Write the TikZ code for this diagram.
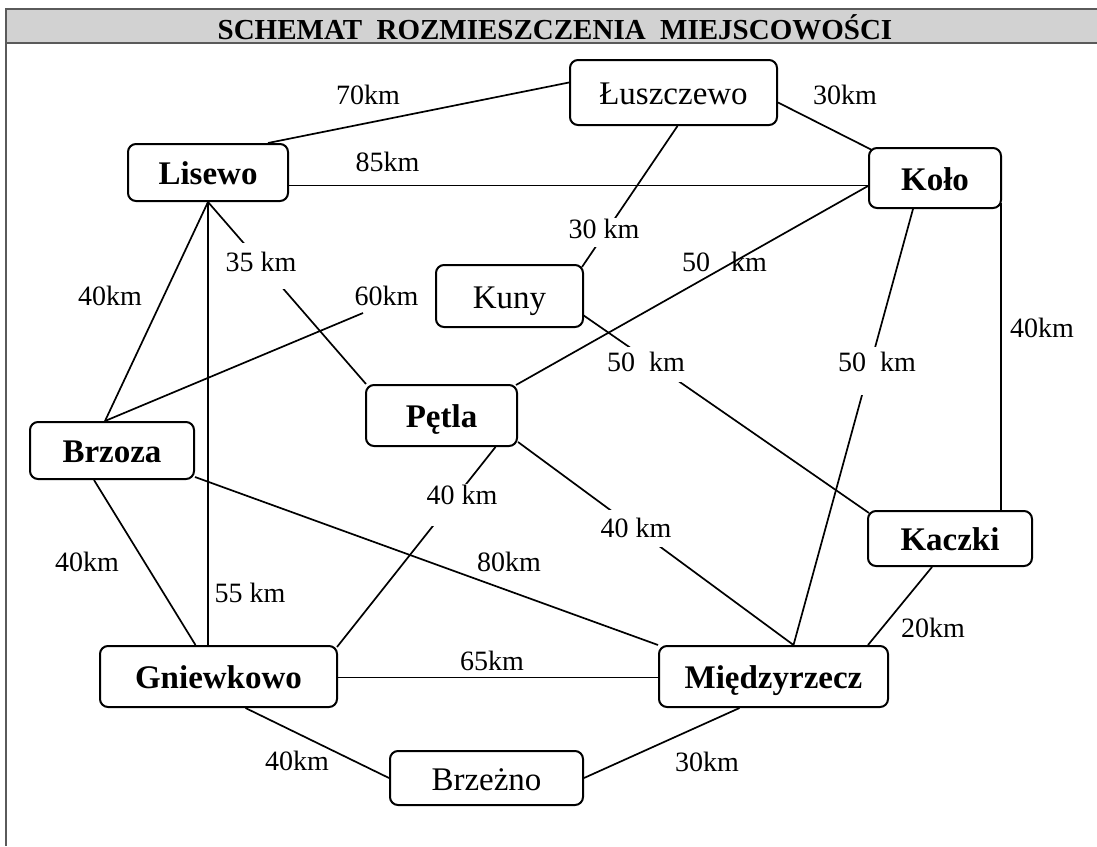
\documentclass[tikz,border=0pt]{standalone}
\usepackage{fontspec}
\setmainfont{Liberation Serif}
\usetikzlibrary{calc}
\definecolor{headgray}{RGB}{210,210,210}
\definecolor{framegray}{RGB}{90,90,90}
\begin{document}
\begin{tikzpicture}[x=1pt,y=-1pt,
  town/.style={draw=black, line width=2pt, rounded corners=8pt, inner sep=0pt,
               text height=27pt, text depth=3pt},
  btown/.style={town, font=\fontsize{33}{38}\selectfont\bfseries},
  rtown/.style={town, font=\fontsize{33}{38}\selectfont},
  road/.style={line width=1.7pt, black},
  dist/.style={inner sep=0pt, font=\fontsize{28}{32}\selectfont},
  gap/.style={dist, fill=white, inner xsep=2pt, anchor=base},
]
\useasboundingbox (0,0) rectangle (1097,846);
% header and frame
\fill[headgray] (6,9) rectangle (1097,43);
\draw[framegray, line width=1.4pt] (1097,9) -- (6,9) -- (6,846);
\draw[framegray, line width=1.4pt] (6,43) -- (1097,43);
\node[inner sep=0pt, font=\fontsize{29}{32}\selectfont\bfseries] (title) at (555,27)
  {SCHEMAT\ \ ROZMIESZCZENIA\ \ MIEJSCOWOŚCI};

% towns
\node[rtown, minimum width=207, minimum height=65] (Luszczewo) at (673.5,92.5) {Łuszczewo};
\node[btown, minimum width=160, minimum height=57] (Lisewo) at (208,172.5) {Lisewo};
\node[btown, minimum width=132, minimum height=60] (Kolo) at (935,178) {Koło};
\node[rtown, minimum width=147, minimum height=62] (Kuny) at (509.5,296) {Kuny};
\node[btown, minimum width=151, minimum height=61] (Petla) at (441.5,415.5) {Pętla};
\node[btown, minimum width=164, minimum height=57] (Brzoza) at (112,450.5) {Brzoza};
\node[btown, minimum width=164, minimum height=55] (Kaczki) at (950,538.5) {Kaczki};
\node[btown, minimum width=237, minimum height=61] (Gniewkowo) at (218.5,676.5) {Gniewkowo};
\node[btown, minimum width=229, minimum height=61] (Miedzyrzecz) at (773.5,676.5) {Międzyrzecz};
\node[rtown, minimum width=193, minimum height=54] (Brzezno) at (486.5,778) {Brzeżno};

% roads
\draw[road] ($(Lisewo.north)+(60,0)$) -- ($(Luszczewo.west)+(0,-10)$);
\draw[road] ($(Lisewo.east)+(0,13)$) coordinate (l85) -- (l85 -| Kolo.west);
\draw[road] ($(Luszczewo.east)+(0,10)$) -- ($(Kolo.north west)+(4,3)$);
\draw[road] ($(Luszczewo.south)+(4,0)$) -- ($(Kuny.north east)+(-2,3)$);
\draw[road] ($(Kolo.west)+(0,8)$) -- ($(Petla.north east)+(-2,1)$);
\draw[road] ($(Kolo.south)+(-22,0)$) -- ($(Miedzyrzecz.north)+(20,0)$);
\draw[road] ($(Kolo.south east)+(-1,-6)$) coordinate (k40) -- (k40 |- Kaczki.north);
\draw[road] ($(Kuny.south east)+(-1,-13)$) -- ($(Kaczki.north west)+(2,3)$);
\draw[road] (Lisewo.south) -- ($(Brzoza.north)+(-7,0)$);
\draw[road] (Lisewo.south) -- (Lisewo.south |- Gniewkowo.north);
\draw[road] (Lisewo.south) -- ($(Petla.north west)+(1,0)$);
\coordinate (e60) at (363,313);
\draw[road] ($(Brzoza.north)+(-7,0)$) -- (e60);
\draw[road] ($(Brzoza.south east)+(0,-3)$) -- (Miedzyrzecz.north west);
\draw[road] ($(Brzoza.south)+(-18,0)$) -- ($(Gniewkowo.north)+(-23,0)$);
\draw[road] ($(Petla.south)+(54,0)$) -- ($(Gniewkowo.north east)+(-1,2)$);
\draw[road] ($(Petla.south east)+(0,-5)$) -- ($(Miedzyrzecz.north)+(20,0)$);
\draw[road] ($(Gniewkowo.east)+(0,1)$) coordinate (g65) -- (g65 -| Miedzyrzecz.west);
\draw[road] ($(Kaczki.south)+(-18,0)$) -- ($(Miedzyrzecz.north east)+(-21,0)$);
\draw[road] ($(Gniewkowo.south)+(27,0)$) -- (Brzezno.west);
\draw[road] ($(Miedzyrzecz.south)+(-34,0)$) -- (Brzezno.east);

% distance labels that break their line
\node[gap, text height=20pt, text depth=9pt] (d30b) at (604,238) {30 km};
\node[gap, text height=24pt, text depth=24pt] (d50c) at (877,371) {50\ \ km};
\node[gap, text height=24pt, text depth=11pt] (d50b) at (646,371) {50\ \ km};
\node[gap, text height=28pt, text depth=18pt] (d35) at (261,271) {35 km};
\node[gap, text height=20pt, text depth=22pt] (d40e) at (462,504) {40 km};
\node[gap, text height=27pt, text depth=10pt] (d40f) at (636,537) {40 km};

% other distance labels
\node[dist] (d70) at (368,94.5) {70km};
\node[dist] (d85) at (387.5,162) {85km};
\node[dist] (d30a) at (845,95) {30km};
\node[dist] (d50a) at (724.5,261.5) {50\ \ \ km};
\node[dist] (d60) at (386.5,296) {60km};
\node[dist] (d40a) at (110,296) {40km};
\node[dist] (d40b) at (1042,328) {40km};
\node[dist] (d80) at (509,562) {80km};
\node[dist] (d40c) at (87,562) {40km};
\node[dist] (d55) at (250,593) {55 km};
\node[dist] (d65) at (492,661) {65km};
\node[dist] (d20) at (933,628) {20km};
\node[dist] (d40d) at (297,761) {40km};
\node[dist] (d30c) at (707,762) {30km};
\end{tikzpicture}
\end{document}
